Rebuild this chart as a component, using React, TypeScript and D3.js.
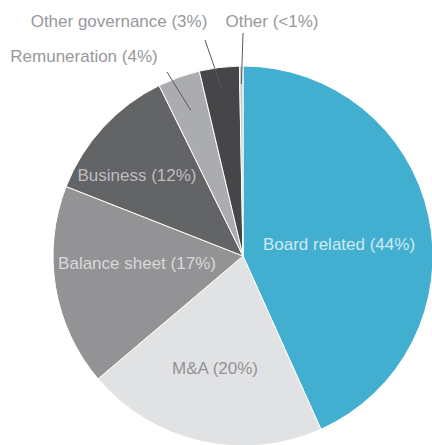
import { useMemo } from "react";
import * as d3 from "d3";

// Chart size
const WIDTH = 432;
const HEIGHT = 445;
const CENTER = { x: 243, y: 256 };
const RADIUS = 190;
const FONT = "'Helvetica Neue', 'Liberation Sans', Arial, sans-serif";

// Data, clockwise from 12 o'clock
const categories = [
  "Board related",
  "M&A",
  "Balance sheet",
  "Business",
  "Remuneration",
  "Other governance",
  "Other",
];
const shares = [43.4, 20.6, 17.2, 11.8, 3.6, 3.4, 0.3];
const shareLabels = ["44%", "20%", "17%", "12%", "4%", "3%", "<1%"];
const colors = ["#42aed0", "#e1e2e4", "#939396", "#636466", "#abacaf", "#464649", "#c9cacc"];
const textColors = ["#cfeaf3", "#929296", "#d8d8da", "#bdbdc0", "#98989b", "#98989b", "#98989b"];

// Label layout relative to the pie centre; callouts get a leader line
type LabelLayout = { dx: number; dy: number; leader?: { r: number; x: number; y: number } };
const labelLayout: LabelLayout[] = [
  { dx: 96, dy: -6 },
  { dx: -28, dy: 118 },
  { dx: -106, dy: 13 },
  { dx: -106, dy: -75 },
  { dx: -159, dy: -194, leader: { r: 155, x: -76, y: -184 } },
  { dx: -124, dy: -229, leader: { r: 168, x: -38, y: -216 } },
  { dx: 29, dy: -229, leader: { r: 172, x: 0, y: -223 } },
];

type Slice = { name: string; value: number; label: string };

export default function App() {
  const data: Slice[] = categories.map((name, i) => ({
    name,
    value: shares[i],
    label: shareLabels[i],
  }));

  const arcs = useMemo(
    () =>
      d3
        .pie<Slice>()
        .sort(null)
        .value((d) => d.value)(data),
    []
  );

  const arcGen = d3.arc<d3.PieArcDatum<Slice>>().innerRadius(0).outerRadius(RADIUS);

  return (
    <svg
      width={WIDTH}
      height={HEIGHT}
      style={{ position: "absolute", left: 0, top: 0, background: "#fff" }}
    >
      <g transform={`translate(${CENTER.x},${CENTER.y})`}>
        {arcs.map((a, i) => (
          <path key={a.data.name} d={arcGen(a) || undefined} fill={colors[i]} stroke="#fff" strokeWidth={1} />
        ))}

        {/* Leader lines for the small slices */}
        {arcs.map((a, i) => {
          const lead = labelLayout[i].leader;
          if (!lead) return null;
          const [cx, cy] = d3
            .arc<d3.PieArcDatum<Slice>>()
            .innerRadius(lead.r)
            .outerRadius(lead.r)
            .centroid(a);
          return (
            <line
              key={`l-${a.data.name}`}
              x1={lead.x}
              y1={lead.y}
              x2={cx}
              y2={cy}
              stroke="#5a5a5d"
              strokeWidth={1}
            />
          );
        })}

        {arcs.map((a, i) => (
          <text
            key={`t-${a.data.name}`}
            x={labelLayout[i].dx}
            y={labelLayout[i].dy}
            textAnchor="middle"
            fontFamily={FONT}
            fontSize={17}
            fill={textColors[i]}
          >
            {`${a.data.name} (${a.data.label})`}
          </text>
        ))}
      </g>
    </svg>
  );
}
